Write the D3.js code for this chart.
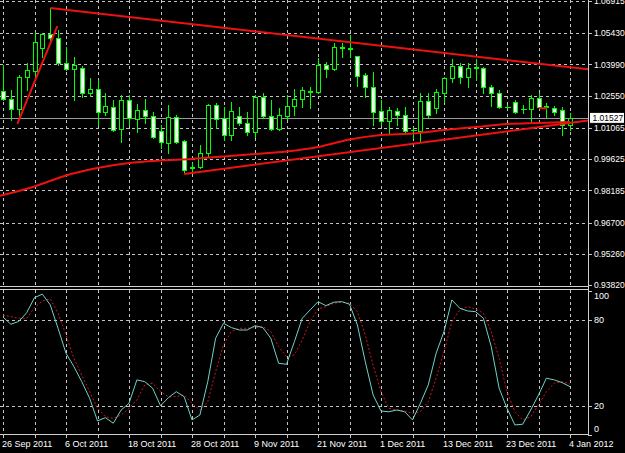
<!DOCTYPE html>
<html>
<head>
  <script src="https://d3js.org/d3.v7.min.js"></script>
  <style>
    body { margin: 0; background: #000; }
    svg { display: block; background: #000; font-family: 'Liberation Sans', Arial, sans-serif; }
    .grid line { stroke: #c4c4c4; stroke-dasharray: 3,3; shape-rendering: crispEdges; }
    .axis text { fill: #fff; font-size: 9px; }
    .axis.price text { font-size: 8.5px; }
    .axis line { stroke: #c8c8c8; shape-rendering: crispEdges; }
    .axis path { display: none; }
    .frame { stroke: #d0d0d0; shape-rendering: crispEdges; }
  </style>
</head>
<body>
<div id="chart"></div>
<script>
  // daily bars, 26 Sep 2011 .. 4 Jan 2012 (index 0..72)
  const opens = [1.0277,1.0240,1.0194,1.0341,1.0369,1.0475,1.0539,1.0521,1.0406,1.0378,
    1.0383,1.0267,1.0286,1.0180,1.0203,1.0101,1.0235,1.0147,1.0189,1.0161,
    1.0092,1.0037,1.0157,1.0046,0.9922,0.9926,0.9991,1.0212,1.0152,1.0074,
    1.0161,1.0129,1.0088,1.0249,1.0161,1.0101,1.0161,1.0207,1.0240,1.0272,
    1.0272,1.0397,1.0378,1.0479,1.0475,1.0438,1.0350,1.0295,1.0184,1.0138,
    1.0184,1.0166,1.0097,1.0092,1.0230,1.0198,1.0267,1.0337,1.0392,1.0341,
    1.0387,1.0383,1.0295,1.0267,1.0203,1.0226,1.0194,1.0194,1.0244,1.0207,
    1.0198,1.0189,1.0120];
  const highs = [1.0397,1.0281,1.0350,1.0406,1.0549,1.0544,1.0659,1.0558,1.0479,1.0433,
    1.0392,1.0337,1.0327,1.0267,1.0235,1.0258,1.0258,1.0217,1.0240,1.0180,
    1.0120,1.0212,1.0166,1.0051,0.9945,1.0028,1.0217,1.0221,1.0203,1.0226,
    1.0203,1.0180,1.0258,1.0267,1.0235,1.0198,1.0258,1.0286,1.0295,1.0295,
    1.0429,1.0410,1.0498,1.0498,1.0535,1.0438,1.0360,1.0364,1.0235,1.0203,
    1.0198,1.0203,1.0111,1.0267,1.0267,1.0286,1.0341,1.0424,1.0406,1.0406,
    1.0424,1.0387,1.0304,1.0281,1.0212,1.0235,1.0212,1.0258,1.0267,1.0221,
    1.0207,1.0203,1.0175];
  const lows = [1.0235,1.0143,1.0152,1.0281,1.0341,1.0433,1.0503,1.0397,1.0373,1.0235,
    1.0249,1.0254,1.0120,1.0166,1.0092,1.0042,1.0120,1.0088,1.0129,1.0060,
    1.0014,0.9991,1.0037,0.9899,0.9899,0.9922,0.9972,1.0106,1.0051,1.0051,
    1.0120,1.0074,1.0065,1.0152,1.0097,1.0097,1.0147,1.0166,1.0203,1.0198,
    1.0267,1.0341,1.0373,1.0433,1.0433,1.0300,1.0249,1.0120,1.0120,1.0083,
    1.0120,1.0083,1.0060,1.0046,1.0157,1.0175,1.0226,1.0318,1.0314,1.0295,
    1.0327,1.0267,1.0207,1.0198,1.0198,1.0175,1.0175,1.0129,1.0198,1.0157,
    1.0166,1.0074,1.0097];
  const closes = [1.0240,1.0194,1.0341,1.0373,1.0503,1.0539,1.0521,1.0406,1.0378,1.0397,
    1.0267,1.0286,1.0180,1.0207,1.0097,1.0235,1.0152,1.0189,1.0161,1.0065,
    1.0042,1.0157,1.0042,0.9912,0.9926,0.9991,1.0212,1.0147,1.0074,1.0184,
    1.0129,1.0088,1.0249,1.0161,1.0101,1.0166,1.0207,1.0240,1.0281,1.0277,
    1.0397,1.0378,1.0479,1.0475,1.0470,1.0346,1.0295,1.0180,1.0138,1.0189,
    1.0166,1.0092,1.0095,1.0230,1.0166,1.0272,1.0337,1.0392,1.0341,1.0383,
    1.0383,1.0295,1.0267,1.0203,1.0201,1.0180,1.0192,1.0244,1.0203,1.0205,
    1.0180,1.0120,1.01527];

  // moving average, sampled every 4 bars
  const maBars = [-1,4,8,12,16,20,24,28,32,36,40,44,48,52,56,60,64,68,72];
  const maVals = [0.97879,0.98363,0.9887,0.99216,0.99447,0.99562,0.99631,0.99746,0.99862,0.99977,
    1.00184,1.0053,1.00737,1.00807,1.00968,1.01106,1.01245,1.01291,1.01337];

  // hand-drawn objects: [bar, price] anchors
  const topLine = [[6, 1.0659], [72, 1.03858]];
  const steepLine = [[1.82, 1.01245], [6.9, 1.05762]];
  const bottomLine = [[23, 0.9894], [72, 1.01291]];
  const shortMark = [[68.05, 1.0197], [69.1, 1.0197]];

  // stochastic oscillator
  const kLine = [82,77,79,85,95.6,98,90.5,74,56.8,47.5,
    37,25.4,9.6,11.9,8,17.2,21.9,38.2,37,32.4,
    20.2,25.8,30,26.5,10.3,13.7,37,67.3,77.7,74.7,
    73,73,76,74.7,67.3,49.8,49.1,64.9,81.2,87,
    92.8,90,92.4,92.8,91,76.5,51,27.7,16.5,16,
    17.2,16,10.3,21.9,34.7,56.8,71.9,94,88.2,86.3,
    85.8,81.2,61.4,32.4,18.4,6.8,7.3,17.2,27.7,39.4,
    38.2,36.3,33.5];
  const dLine = [83.5,82.3,81.2,81.2,88.6,93.3,94.7,84.7,69.6,53.3,
    41.7,30,18.4,12.6,11.4,13.7,18.4,24.2,34.7,35.9,
    30,26.5,26.5,27.7,21.9,17.2,23,44,62.6,71.9,
    74.2,74.2,74.7,75.4,71.9,61.4,54.4,55.6,66.1,78.9,
    87.7,89.3,91.7,92.4,91.7,85.8,69.6,48.6,30,18.4,
    17.2,16.5,14.9,16,23,39.4,57.9,78.9,87,89.3,
    87.7,84.7,71.9,53.3,30,16,10.3,12.6,20.7,30,
    35.9,37,35.4];

  const priceTicks = [1.06915,1.05430,1.03990,1.02550,1.01065,0.99625,0.98185,0.96700,0.95260,0.93820];
  const stochTicks = [100, 80, 20, 0];
  const dateLabels = ["26 Sep 2011","6 Oct 2011","18 Oct 2011","28 Oct 2011","9 Nov 2011",
    "21 Nov 2011","1 Dec 2011","13 Dec 2011","23 Dec 2011","4 Jan 2012"];
  const lastPrice = 1.01527;

  const width = 625, height = 453;
  const plotRight = 588;

  const svg = d3.select("#chart").append("svg")
    .attr("width", width)
    .attr("height", height);

  const x = d3.scaleLinear().domain([0, 72]).range([3, 570]);
  const y = d3.scaleLinear().domain([0.93820, 1.06915]).range([285, 1]);
  const ys = d3.scaleLinear().domain([0, 100]).range([434.7, 291.3]);
  const px = v => Math.round(v) + 0.5;

  const defs = svg.append("defs");
  defs.append("clipPath").attr("id", "clipMain")
    .append("rect").attr("x", 0).attr("y", 0).attr("width", plotRight).attr("height", 286);
  defs.append("clipPath").attr("id", "clipSub")
    .append("rect").attr("x", 0).attr("y", 290).attr("width", plotRight).attr("height", 144);

  // grids
  const gridBars = d3.range(0, 73, 4);
  const grid = svg.append("g").attr("class", "grid");
  grid.selectAll(".hg").data(priceTicks.slice(0, -1)).enter().append("line")
    .attr("x1", 0).attr("x2", plotRight)
    .attr("y1", d => px(y(d))).attr("y2", d => px(y(d)));
  grid.selectAll(".hs").data([80, 20]).enter().append("line")
    .attr("x1", 0).attr("x2", plotRight)
    .attr("y1", d => px(ys(d))).attr("y2", d => px(ys(d)));
  grid.selectAll(".vg").data(gridBars).enter().append("line")
    .attr("x1", d => px(x(d))).attr("x2", d => px(x(d)))
    .attr("y1", 0).attr("y2", 286);
  grid.selectAll(".vs").data(gridBars).enter().append("line")
    .attr("x1", d => px(x(d))).attr("x2", d => px(x(d)))
    .attr("y1", 290).attr("y2", 434);

  const main = svg.append("g").attr("clip-path", "url(#clipMain)");

  // last price line
  main.append("line")
    .attr("x1", 0).attr("x2", plotRight)
    .attr("y1", px(y(lastPrice))).attr("y2", px(y(lastPrice)))
    .attr("stroke", "#9a9a9a").style("shape-rendering", "crispEdges");

  // candles
  const bars = d3.range(opens.length).map(i => ({ i, o: opens[i], h: highs[i], l: lows[i], c: closes[i] }));
  const candle = main.selectAll(".candle").data(bars).enter().append("g");
  candle.append("line")
    .attr("x1", d => px(x(d.i))).attr("x2", d => px(x(d.i)))
    .attr("y1", d => Math.round(y(d.h))).attr("y2", d => Math.round(y(d.l)) + 1)
    .attr("stroke", "#00ff00").style("shape-rendering", "crispEdges");
  candle.each(function (d) {
    const g = d3.select(this);
    const cx = px(x(d.i));
    const top = Math.round(y(Math.max(d.o, d.c)));
    const bot = Math.round(y(Math.min(d.o, d.c)));
    if (bot - top < 1) {
      g.append("line").attr("x1", cx - 3).attr("x2", cx + 3)
        .attr("y1", top + 0.5).attr("y2", top + 0.5)
        .attr("stroke", "#00ff00").style("shape-rendering", "crispEdges");
    } else {
      g.append("rect")
        .attr("x", cx - 2).attr("width", 4)
        .attr("y", top + 0.5).attr("height", bot - top)
        .attr("fill", d.c < d.o ? "#f0fff0" : "#000")
        .attr("stroke", "#00ff00").style("shape-rendering", "crispEdges");
    }
  });

  // moving average
  main.append("path")
    .datum(maBars.map((b, k) => [b, maVals[k]]))
    .attr("fill", "none").attr("stroke", "#ee1111").attr("stroke-width", 2)
    .attr("d", d3.line().x(d => x(d[0])).y(d => y(d[1])).curve(d3.curveMonotoneX));

  // trendlines (rays extended to the price axis)
  const edgeBar = x.invert(plotRight);
  function ray(pts) {
    const [a, b] = pts;
    const slope = (b[1] - a[1]) / (b[0] - a[0]);
    return [a, [edgeBar, a[1] + slope * (edgeBar - a[0])]];
  }
  [ray(topLine), steepLine, ray(bottomLine), shortMark].forEach(pts => {
    main.append("line")
      .attr("x1", x(pts[0][0])).attr("y1", y(pts[0][1]))
      .attr("x2", x(pts[1][0])).attr("y2", y(pts[1][1]))
      .attr("stroke", "#ee1111").attr("stroke-width", 2);
  });

  // stochastic
  const sub = svg.append("g").attr("clip-path", "url(#clipSub)");
  const sline = d3.line().x((d, i) => x(i)).y(d => ys(d));
  sub.append("path").datum(dLine)
    .attr("fill", "none").attr("stroke", "#d01818").attr("stroke-width", 1)
    .attr("stroke-dasharray", "2,2").attr("d", sline);
  sub.append("path").datum(kLine)
    .attr("fill", "none").attr("stroke", "#6fd3c8").attr("stroke-width", 1)
    .attr("d", sline);

  // frames
  const frame = svg.append("g").attr("class", "frame");
  frame.append("line").attr("x1", 0).attr("x2", plotRight).attr("y1", 286.5).attr("y2", 286.5);
  frame.append("line").attr("x1", 0).attr("x2", plotRight).attr("y1", 289.5).attr("y2", 289.5);
  frame.append("line").attr("x1", 0).attr("x2", plotRight).attr("y1", 434.5).attr("y2", 434.5);
  frame.append("line").attr("x1", plotRight + 0.5).attr("x2", plotRight + 0.5).attr("y1", 0).attr("y2", 435);

  // price axis
  svg.append("g").attr("class", "axis price")
    .attr("transform", `translate(${plotRight},0)`)
    .call(d3.axisRight(y).tickValues(priceTicks).tickFormat(d3.format(".5f")).tickSize(4).tickPadding(2));

  // last price label
  const tag = svg.append("g").attr("transform", `translate(589.5,${y(lastPrice)})`);
  tag.append("rect").attr("x", 0).attr("y", -5.5).attr("width", 35).attr("height", 11)
    .attr("fill", "#fff").attr("stroke", "#000");
  tag.append("text").attr("x", 3).attr("dy", "0.35em")
    .style("font-size", "8.5px").attr("fill", "#000").text(d3.format(".5f")(lastPrice));

  // stochastic axis
  const sAxis = svg.append("g").attr("class", "axis")
    .attr("transform", `translate(${plotRight},0)`)
    .call(d3.axisRight(ys).tickValues(stochTicks).tickSize(4).tickPadding(2));
  sAxis.selectAll(".tick text")
    .attr("y", d => d === 100 ? 4 : d === 0 ? -6 : 0);

  // time axis
  const xAxis = svg.append("g").attr("class", "axis")
    .attr("transform", "translate(0,434)")
    .call(d3.axisBottom(x).tickValues(gridBars).tickSize(4).tickPadding(3)
      .tickFormat(d => d % 8 === 0 ? dateLabels[d / 8] : ""));
  xAxis.selectAll(".tick text").attr("text-anchor", "start").attr("dx", -1.5);
</script>
</body>
</html>
